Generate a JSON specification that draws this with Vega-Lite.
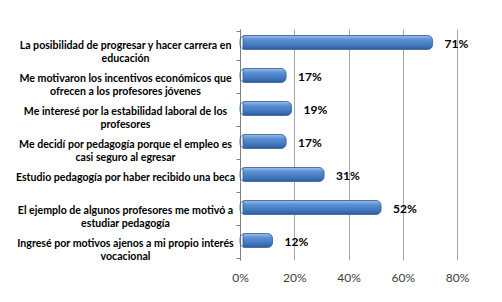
{
  "$schema": "https://vega.github.io/schema/vega-lite/v6.json",
  "width": 217,
  "height": 231,
  "autosize": {"type": "none"},
  "padding": {"left": 240, "top": 29, "right": 45, "bottom": 42},
  "background": "white",
  "config": {"view": {"stroke": null}, "font": "Lato"},
  "data": {
    "values": [
      {"motivo": "La posibilidad de progresar y hacer carrera en\neducación", "pct": 0.71},
      {"motivo": "Me motivaron los incentivos económicos que\nofrecen a los profesores jóvenes", "pct": 0.17},
      {"motivo": "Me interesé por la estabilidad laboral de los\nprofesores", "pct": 0.19},
      {"motivo": "Me decidí por pedagogía porque el empleo es\ncasi seguro al egresar", "pct": 0.17},
      {"motivo": "Estudio pedagogía por haber recibido una beca", "pct": 0.31},
      {"motivo": "El ejemplo de algunos profesores me motivó a\nestudiar pedagogía", "pct": 0.52},
      {"motivo": "Ingresé por motivos ajenos a mi propio interés\nvocacional", "pct": 0.12}
    ]
  },
  "encoding": {
    "y": {
      "field": "motivo",
      "type": "nominal",
      "sort": null,
      "title": null,
      "axis": {
        "labelExpr": "split(datum.label, '\\n')",
        "labelAlign": "center",
        "labelBaseline": "middle",
        "labelPadding": 111,
        "labelFont": "Lato",
        "labelFontSize": 10.6,
        "labelFontWeight": "bold",
        "labelColor": "#000000",
        "labelLineHeight": 13,
        "labelLimit": 300,
        "ticks": true,
        "tickBand": "extent",
        "tickSize": 4,
        "tickColor": "#808080",
        "tickWidth": 1,
        "domain": true,
        "domainColor": "#808080",
        "grid": false
      }
    },
    "x": {
      "field": "pct",
      "type": "quantitative",
      "scale": {"domain": [0, 0.8]},
      "title": null,
      "axis": {
        "values": [0, 0.2, 0.4, 0.6, 0.8],
        "format": ".0%",
        "labelFont": "Lato",
        "labelFontSize": 12,
        "labelColor": "#404040",
        "labelPadding": 12,
        "domain": false,
        "ticks": false,
        "grid": true,
        "gridColor": "#a6a6a6",
        "labelFlush": false
      }
    }
  },
  "layer": [
    {
      "mark": {
        "type": "bar",
        "size": 14,
        "yOffset": -3,
        "xOffset": 3,
        "x2Offset": 8,
        "cornerRadius": 5,
        "stroke": "#2f5b95",
        "strokeWidth": 0.8,
        "color": {
          "gradient": "linear",
          "x1": 0, "y1": 0, "x2": 0, "y2": 1,
          "stops": [
            {"offset": 0, "color": "#9cc0ea"},
            {"offset": 0.3, "color": "#5a8fd2"},
            {"offset": 0.75, "color": "#3f74bb"},
            {"offset": 1, "color": "#2c5a96"}
          ]
        }
      }
    },
    {
      "mark": {
        "type": "text",
        "align": "left",
        "baseline": "middle",
        "dx": 12,
        "yOffset": -2,
        "font": "Lato",
        "fontSize": 12,
        "fontWeight": "bold",
        "color": "#000000"
      },
      "encoding": {
        "text": {"field": "pct", "type": "quantitative", "format": ".0%"}
      }
    }
  ]
}
